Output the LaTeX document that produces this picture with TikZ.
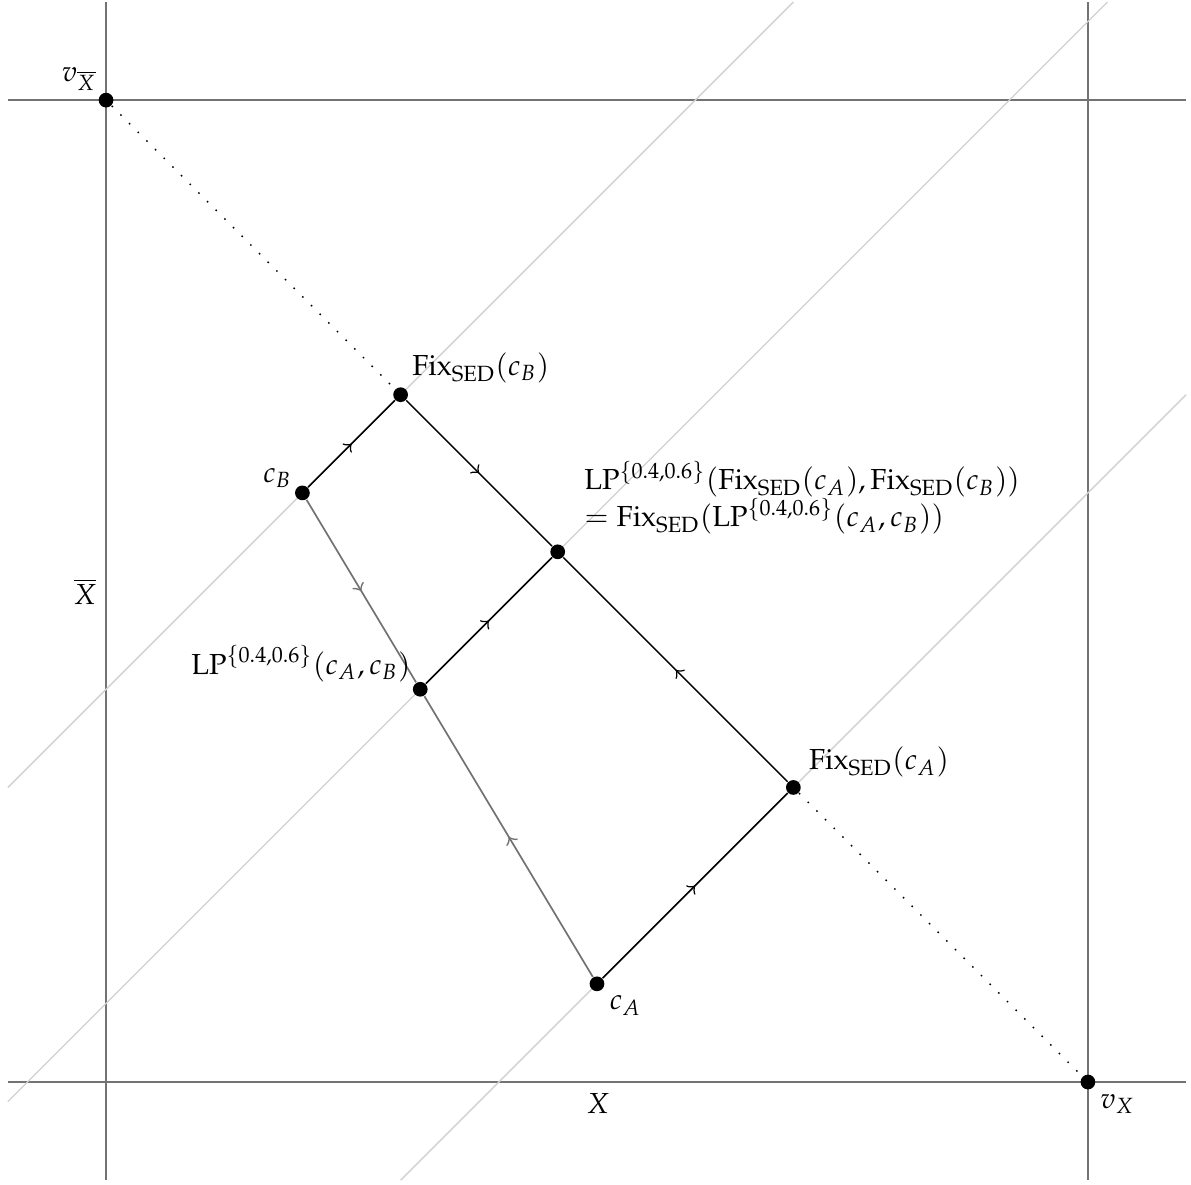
\documentclass[tikz,border=0pt]{standalone}
\usepackage[T1]{fontenc}
\usepackage{mathpazo}
\usetikzlibrary{decorations.markings,calc}
\tikzset{
  dot/.style={circle,fill=black,inner sep=0pt,minimum size=0.15cm},
  axis/.style={draw=black!55,line width=0.5pt},
  guide/.style={draw=black!18,line width=0.4pt},
  proj/.style={draw=black,line width=0.45pt},
  interp/.style={draw=black!55,line width=0.5pt},
  fixline/.style={draw=black,line width=0.45pt,dash pattern=on 0.45pt off 3.1pt},
  mid/.style={postaction={decorate},decoration={markings,mark=at position 0.5 with {\arrow{>}}}},
  lbl/.style={inner sep=0pt,font=\fontsize{8.4}{10.1}\selectfont},
}
\begin{document}
\begin{tikzpicture}
\useasboundingbox (-1.08,-1.04) rectangle (11.05,11.02);
% axes
\draw[axis] (-1,0) -- (11,0);
\draw[axis] (-1,10) -- (11,10);
\draw[axis] (0,-1) -- (0,11);
\draw[axis] (10,-1) -- (10,11);
% guides of slope 1
\draw[guide] (-1,3) -- (7,11);
\draw[guide] (-1,-0.2) -- (10.2,11);
\draw[guide] (3,-1) -- (11,7);
% points
\node[dot] (vXb) at (0,10) {};
\node[dot] (vX) at (10,0) {};
\node[dot] (cA) at (5,1) {};
\node[dot] (cB) at (2,6) {};
\node[dot] (fA) at (7,3) {};
\node[dot] (fB) at (3,7) {};
\node[dot] (lp) at (3.2,4) {};
\node[dot] (lpf) at (4.6,5.4) {};
% connectors
\draw[fixline] (vXb) -- (fB);
\draw[fixline] (fA) -- (vX);
\draw[proj,mid] (cB) -- (fB);
\draw[proj,mid] (cA) -- (fA);
\draw[proj,mid] (lp) -- (lpf);
\draw[proj,mid] (fB) -- (lpf);
\draw[proj,mid] (fA) -- (lpf);
\draw[interp,mid] (cB) -- (lp);
\draw[interp,mid] (cA) -- (lp);
% labels
\node[lbl,anchor=base east] (tvXb) at ($(vXb)+(-0.092,0.194)$) {$v_{\overline{X}}$};
\node[lbl,anchor=base west] (tvX) at ($(vX)+(0.122,-0.265)$) {$v_X$};
\node[lbl,anchor=base] (tX) at (5.01,-0.316) {$X$};
\node[lbl,anchor=base] (tXb) at (-0.214,4.862) {$\overline{X}$};
\node[lbl,anchor=base west] (tfB) at ($(fB)+(0.112,0.194)$) {$\mathrm{Fix}_{\mathrm{SED}}(c_B)$};
\node[lbl,anchor=base east] (tcB) at ($(cB)+(-0.10,0.11)$) {$c_B$};
\node[lbl,anchor=base west] (tlpf1) at ($(lpf)+(0.265,0.632)$) {$\mathrm{LP}^{\{0.4,0.6\}}(\mathrm{Fix}_{\mathrm{SED}}(c_A),\mathrm{Fix}_{\mathrm{SED}}(c_B))$};
\node[lbl,anchor=base west] (tlpf2) at ($(lpf)+(0.265,0.255)$) {$=\mathrm{Fix}_{\mathrm{SED}}(\mathrm{LP}^{\{0.4,0.6\}}(c_A,c_B))$};
\node[lbl,anchor=base east] (tlp) at ($(lp)+(-0.092,0.153)$) {$\mathrm{LP}^{\{0.4,0.6\}}(c_A,c_B)$};
\node[lbl,anchor=base west] (tfA) at ($(fA)+(0.153,0.183)$) {$\mathrm{Fix}_{\mathrm{SED}}(c_A)$};
\node[lbl,anchor=base west] (tcA) at ($(cA)+(0.122,-0.265)$) {$c_A$};
\end{tikzpicture}
\end{document}
